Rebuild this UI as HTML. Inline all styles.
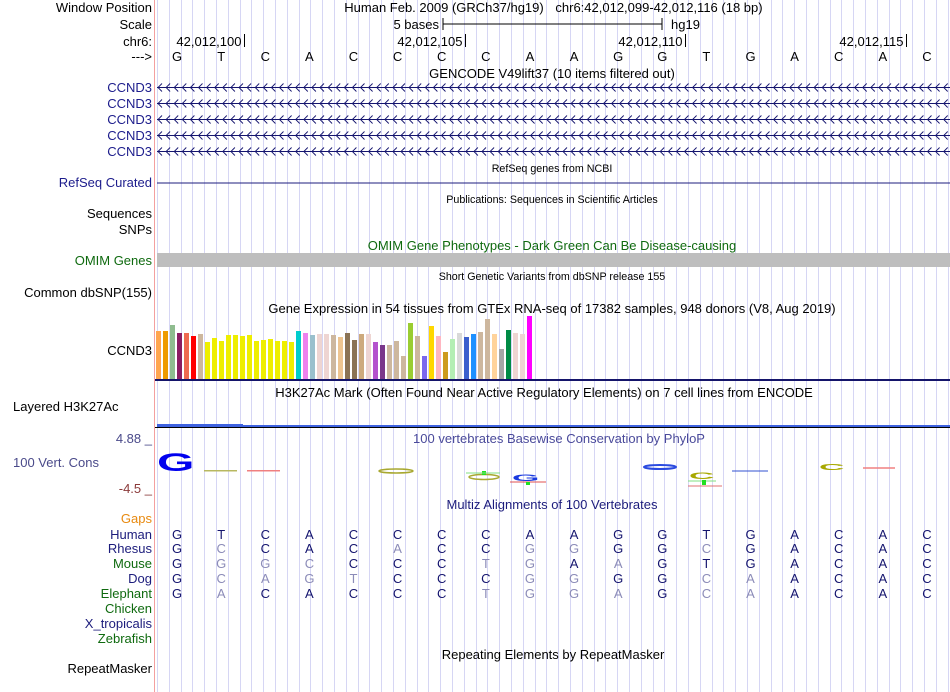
<!DOCTYPE html>
<html><head><meta charset="utf-8"><style>
html,body{margin:0;padding:0;background:#fff;width:950px;height:692px;overflow:hidden}
svg{display:block;font-family:"Liberation Sans",sans-serif}
</style></head><body>
<svg id="s" width="950" height="692">
<g id="grid"></g>
<line x1="154.5" y1="0" x2="154.5" y2="692" stroke="#f4a0a0" stroke-width="1"/>
<g id="labels" font-size="13" text-anchor="end">
<text x="152" y="12">Window Position</text>
<text x="152" y="29">Scale</text>
<text x="152" y="46">chr6:</text>
<text x="152" y="61">---&gt;</text>
<text x="152" y="92" fill="#1c1c8c">CCND3</text>
<text x="152" y="108" fill="#1c1c8c">CCND3</text>
<text x="152" y="124" fill="#1c1c8c">CCND3</text>
<text x="152" y="140" fill="#1c1c8c">CCND3</text>
<text x="152" y="156" fill="#1c1c8c">CCND3</text>
<text x="152" y="187" fill="#1c1c8c">RefSeq Curated</text>
<text x="152" y="218">Sequences</text>
<text x="152" y="234">SNPs</text>
<text x="152" y="265" fill="#0f6a0f">OMIM Genes</text>
<text x="152" y="297">Common dbSNP(155)</text>
<text x="152" y="355">CCND3</text>
<text x="13" y="411" text-anchor="start">Layered H3K27Ac</text>
<text x="152" y="443" fill="#4a4a8a">4.88 _</text>
<text x="13" y="467" text-anchor="start" fill="#4a4a8a">100 Vert. Cons</text>
<text x="152" y="493" fill="#8b3a3a">-4.5 _</text>
<text x="152" y="523" fill="#e88a10">Gaps</text>
<text x="152" y="539" fill="#1c1c7c">Human</text>
<text x="152" y="553" fill="#1c1c7c">Rhesus</text>
<text x="152" y="568" fill="#0f6a0f">Mouse</text>
<text x="152" y="583" fill="#1c1c7c">Dog</text>
<text x="152" y="598" fill="#0f6a0f">Elephant</text>
<text x="152" y="613" fill="#0f6a0f">Chicken</text>
<text x="152" y="628" fill="#1c1c7c">X_tropicalis</text>
<text x="152" y="643" fill="#0f6a0f">Zebrafish</text>
<text x="152" y="673">RepeatMasker</text>
</g>
<g font-size="13" text-anchor="middle">
<text x="444" y="12">Human Feb. 2009 (GRCh37/hg19)</text>
<text x="659" y="12">chr6:42,012,099-42,012,116 (18 bp)</text>
<text x="439" y="29" text-anchor="end">5 bases</text>
<text x="671" y="29" text-anchor="start">hg19</text>
<text x="552" y="78">GENCODE V49lift37 (10 items filtered out)</text>
<text x="552" y="172" font-size="10.7">RefSeq genes from NCBI</text>
<text x="552" y="203" font-size="10.7">Publications: Sequences in Scientific Articles</text>
<text x="552" y="250" fill="#0f6a0f">OMIM Gene Phenotypes - Dark Green Can Be Disease-causing</text>
<text x="552" y="280" font-size="10.7">Short Genetic Variants from dbSNP release 155</text>
<text x="552" y="313">Gene Expression in 54 tissues from GTEx RNA-seq of 17382 samples, 948 donors (V8, Aug 2019)</text>
<text x="544" y="397">H3K27Ac Mark (Often Found Near Active Regulatory Elements) on 7 cell lines from ENCODE</text>
<text x="559" y="443" fill="#4a4a9a">100 vertebrates Basewise Conservation by PhyloP</text>
<text x="552" y="509" fill="#1c1c7c">Multiz Alignments of 100 Vertebrates</text>
<text x="553" y="659">Repeating Elements by RepeatMasker</text>
</g>
<g stroke="#000">
<line x1="443" y1="24" x2="662" y2="24"/><line x1="443" y1="18" x2="443" y2="30"/><line x1="662" y1="18" x2="662" y2="30"/>
</g>
<g id="ruler" font-size="13"></g>
<g id="seq" font-size="13" text-anchor="middle"></g>
<g id="genes"></g>
<line x1="157" y1="183" x2="950" y2="183" stroke="#1c1c7c"/>
<rect x="157" y="253" width="793" height="14" fill="#bebebe"/>
<g id="gtex"></g>
<rect x="155" y="379" width="795" height="2" fill="#14146a"/>
<rect x="157" y="424" width="86" height="3" fill="#3f63e0"/>
<rect x="243" y="425" width="707" height="2" fill="#3f63e0"/>
<line x1="155" y1="427.5" x2="950" y2="427.5" stroke="#000"/>
<g id="cons">
<text x="0" y="0" font-size="26" font-weight="bold" fill="#0000ee" transform="translate(157,471) scale(1.85,0.97)">G</text>
<rect x="204" y="470" width="33" height="1.5" fill="#b8b860"/><rect x="247" y="470" width="33" height="1.5" fill="#f08080"/>
<ellipse cx="396" cy="471" rx="17" ry="2" fill="none" stroke="#a8a830" stroke-width="1.5"/>
<ellipse cx="484" cy="477" rx="15" ry="2.5" fill="none" stroke="#a8a830" stroke-width="1.5"/>
<rect x="482" y="471" width="4" height="4" fill="#20e020"/><line x1="466" y1="473" x2="500" y2="473" stroke="#80e080"/>
<text x="0" y="0" font-size="16" font-weight="bold" fill="#1a3ae0" transform="translate(512,481) scale(2.2,0.6)">G</text>
<line x1="510" y1="482" x2="546" y2="482" stroke="#e05050"/><rect x="526" y="482" width="4" height="3" fill="#20e020"/>
<ellipse cx="660" cy="467" rx="16" ry="2" fill="none" stroke="#2a4ae0" stroke-width="2"/>
<text x="0" y="0" font-size="16" font-weight="bold" fill="#a8a800" transform="translate(689,479) scale(2.2,0.55)">C</text>
<line x1="688" y1="481" x2="716" y2="481" stroke="#80e080"/><rect x="702" y="480" width="4" height="5" fill="#20e020"/><line x1="688" y1="486" x2="722" y2="486" stroke="#e07070"/>
<line x1="732" y1="471" x2="768" y2="471" stroke="#3050d0"/>
<text x="0" y="0" font-size="16" font-weight="bold" fill="#a8a800" transform="translate(819,470) scale(2.2,0.5)">C</text>
<line x1="863" y1="468" x2="895" y2="468" stroke="#f08080" stroke-width="1.5"/>
</g>
<g id="maf" font-size="13" text-anchor="middle"></g>
</svg>
<script>
const NS='http://www.w3.org/2000/svg';
const svg=document.getElementById('s');
function mk(tag,attrs,parent,txt){const e=document.createElementNS(NS,tag);for(const k in attrs)e.setAttribute(k,attrs[k]);if(txt!==undefined)e.textContent=txt;parent.appendChild(e);return e;}

// ---- data ----
const refBases=['G','T','C','A','C','C','C','C','A','A','G','G','T','G','A','C','A','C'];
const rulerLabels=['42,012,100','42,012,105','42,012,110','42,012,115'];
const rulerBaseIdx=[1,6,11,16];
const species=['Human','Rhesus','Mouse','Dog','Elephant'];
const alnHuman='GTCACCCCAAGGTGACAC';
const alnRhesus='GCCACACCGGGGCGACAC';
const alnMouse='GGGCCCCTGAAGTGACAC';
const alnDog='GCAGTCCCGGGGCAACAC';
const alnElephant='GACACCCTGGAGCAACAC';
const alnRowsY=[539,553,568,583,598];
const gtexTissues=['Adipose Subcut','Adipose Visceral','Adrenal','Artery Aorta','Artery Coronary','Artery Tibial','Bladder','Brain Amygdala','Brain ACC','Brain Caudate','Brain Cerebellar','Brain Cerebellum','Brain Cortex','Brain FC','Brain Hippocampus','Brain Hypothalamus','Brain Nucleus Acc','Brain Putamen','Brain Spinal','Brain Substantia','Breast','Cells Fibroblasts','Cells LCL','Cervix Ecto','Cervix Endo','Colon Sigmoid','Colon Transverse','Esoph GJ','Esoph Mucosa','Esoph Muscularis','Fallopian','Heart AA','Heart LV','Kidney Cortex','Kidney Medulla','Liver','Lung','Salivary','Muscle','Nerve Tibial','Ovary','Pancreas','Pituitary','Prostate','Skin NoSun','Skin Sun','Small Intestine','Spleen','Stomach','Testis','Thyroid','Uterus','Vagina','Whole Blood'];
const gtexValues=[48,48,54,46,46,43,45,37,41,38,44,44,43,44,38,39,40,38,38,37,48,46,44,45,45,44,42,46,39,45,45,37,34,34,38,23,56,43,23,53,43,27,40,46,42,45,47,60,45,30,49,46,45,63];
const gtexColors=['#ffa54f','#ee9a00','#8fbc8f','#8b1c62','#ee6a50','#ff0000','#cdb79e','#eeee00','#eeee00','#eeee00','#eeee00','#eeee00','#eeee00','#eeee00','#eeee00','#eeee00','#eeee00','#eeee00','#eeee00','#eeee00','#00cdcd','#ee82ee','#9ac0cd','#eed5d2','#eed5d2','#cdb79e','#eec591','#8b7355','#8b7355','#cdaa7d','#eed5d2','#b452cd','#7a378b','#cdb79e','#cdb79e','#cdb79e','#9acd32','#cdb79e','#7b68ee','#ffd700','#ffb6c1','#cd9b1d','#b4eeb4','#d9d9d9','#3a5fcd','#1e90ff','#cdb79e','#cdb79e','#ffd39b','#a6a6a6','#008b45','#eed5d2','#eed5d2','#ff00ff'];

// ---- scales ----
const X0=155, BW=794/18;
const xBase=i=>X0+BW*i+BW/2;
const gX=i=>156+i*7;
const gY=v=>379-v;

// grid
const grid=document.getElementById('grid');
for(let x=157;x<950;x+=11.8){
  const l=mk('line',{x1:Math.round(x)+0.5,y1:0,x2:Math.round(x)+0.5,y2:692,stroke:'#d6d6f4'},grid);
  
  
}
// ruler
const ruler=document.getElementById('ruler');
rulerLabels.forEach((lab,k)=>{
  const x=Math.round(X0+BW*(rulerBaseIdx[k]+1)+1)+0.5;
  const t=mk('text',{x:x-3,y:46,'text-anchor':'end'},ruler,lab);
  
  
  const l=mk('line',{x1:x,y1:34,x2:x,y2:47,stroke:'#000'},ruler);
  
  
});
// sequence
const seq=document.getElementById('seq');
refBases.forEach((b,i)=>{
  const t=mk('text',{x:xBase(i),y:61},seq,b);
  
  
});
// genes
const genes=document.getElementById('genes');
[87,103,119,135,151].forEach(y=>{
  const g=mk('g',{stroke:'#14146e',fill:'none'},genes);
  
  
  mk('line',{x1:157,y1:y+0.5,x2:950,y2:y+0.5},g);
  let d='';
  for(let x=158;x<950;x+=8.1){d+=`M${(x+4).toFixed(1)} ${y-3.5}L${x.toFixed(1)} ${y+0.5}L${(x+4).toFixed(1)} ${y+4.5}`;}
  mk('path',{d:d,'stroke-width':0.9},g);
});
// gtex bars
const gtex=document.getElementById('gtex');
gtexValues.forEach((v,i)=>{
  const r=mk('rect',{x:gX(i),y:gY(v),width:5,height:379-gY(v),fill:gtexColors[i]},gtex);
  
  
});
// multiz
const maf=document.getElementById('maf');
const rows=[alnHuman,alnRhesus,alnMouse,alnDog,alnElephant];
rows.forEach((row,r)=>{
  row.split('').forEach((b,i)=>{
    const match=b===alnHuman[i];
    const t=mk('text',{x:xBase(i),y:alnRowsY[r],fill:match?'#14146e':'#8c8cb8'},maf,b);
    
    
  });
});
</script>
</body></html>
